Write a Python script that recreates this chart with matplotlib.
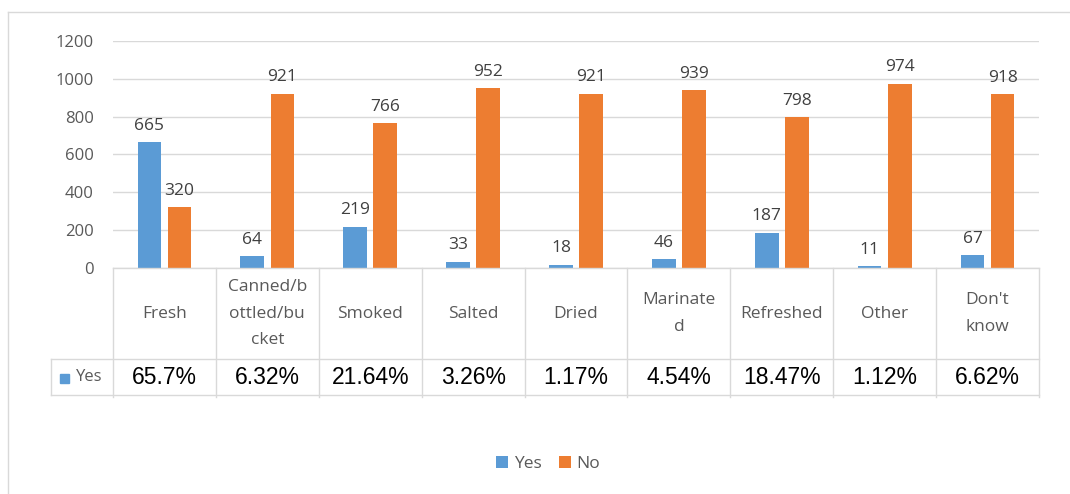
import matplotlib.pyplot as plt
import numpy as np

# fish product forms
categories = ["Fresh", "Canned/b\nottled/bu\ncket", "Smoked", "Salted", "Dried",
              "Marinate\nd", "Refreshed", "Other", "Don't\nknow"]
yes = [665, 64, 219, 33, 18, 46, 187, 11, 67]
no = [320, 921, 766, 952, 921, 939, 798, 974, 918]
yes_pct = ["65.7%", "6.32%", "21.64%", "3.26%", "1.17%", "4.54%", "18.47%", "1.12%", "6.62%"]

blue = "#5B9BD5"
orange = "#ED7D31"
grid = "#D9D9D9"
txt = "#595959"

W, H = 1070, 494
fig = plt.figure(figsize=(W / 100, H / 100), dpi=100)
plt.rcParams['font.family'] = ['Open Sans', 'DejaVu Sans']

x0, x1, ytop, ybot = 113, 1039, 41, 268
ax = fig.add_axes([x0 / W, 1 - ybot / H, (x1 - x0) / W, (ybot - ytop) / H])

x = np.arange(len(categories))
bw = 0.23
off = 0.146
b1 = ax.bar(x - off, yes, bw, color=blue, zorder=3)
b2 = ax.bar(x + off, no, bw, color=orange, zorder=3)

for bars, vals in ((b1, yes), (b2, no)):
    for b, v in zip(bars, vals):
        ax.annotate(str(v), (b.get_x() + b.get_width() / 2, v), xytext=(0, 6),
                    textcoords="offset points", ha="center", va="bottom",
                    fontsize=12.5, color="#404040")

ax.set_xlim(-0.5, len(categories) - 0.5)
ax.set_ylim(0, 1200)
ax.set_yticks(range(0, 1201, 200))
ax.tick_params(axis="y", length=0, labelsize=12, labelcolor=txt, pad=14)
ax.set_xticks([])
ax.grid(axis="y", color=grid, linewidth=1, zorder=0)
for s in ax.spines.values():
    s.set_visible(False)

# data table below the bars (axes fraction in y)
h_ax = ybot - ytop
r1 = -(359 - ybot) / h_ax
r2 = -(395 - ybot) / h_ax
left_key = -0.5 - (x0 - 51) / ((x1 - x0) / len(categories))
kw = dict(color=grid, linewidth=1, clip_on=False, zorder=4,
          transform=ax.get_xaxis_transform())
ax.plot([-0.5, len(categories) - 0.5], [0, 0], **kw)
ax.plot([left_key, len(categories) - 0.5], [r1, r1], **kw)
ax.plot([left_key, len(categories) - 0.5], [r2, r2], **kw)
ax.plot([left_key, left_key], [r1, r2], **kw)
for b in np.arange(-0.5, len(categories)):
    ax.plot([b, b], [0, r2 - 0.008], **kw)

for i, c in enumerate(categories):
    ax.text(i, r1 / 2, c, transform=ax.get_xaxis_transform(), ha="center", va="center",
            fontsize=12.5, color=txt, linespacing=1.85)
    ax.text(i, (r1 + r2) / 2, yes_pct[i], transform=ax.get_xaxis_transform(),
            ha="center", va="center", fontsize=16.5, color="black",
            family=["Liberation Sans", "DejaVu Sans"])

# legend key in the table
fig.patches.append(plt.Rectangle((60 / W, 1 - 383 / H), 9 / W, 9 / H,
                                 transform=fig.transFigure, color=blue))
fig.text(76 / W, 1 - 377 / H, "Yes", ha="left", va="center", fontsize=12, color=txt)

# chart border (top and left visible)
fig.add_artist(plt.Line2D([8 / W, 1], [1 - 12 / H, 1 - 12 / H], color=grid, linewidth=1))
fig.add_artist(plt.Line2D([8 / W, 8 / W], [0, 1 - 12 / H], color=grid, linewidth=1))

leg = fig.legend([b1, b2], ["Yes", "No"], loc="center", bbox_to_anchor=(548 / W, 1 - 464 / H),
                 ncol=2, frameon=False, fontsize=12.5, handlelength=0.7, handleheight=0.7,
                 handletextpad=0.3, columnspacing=1.0)
for t in leg.get_texts():
    t.set_color(txt)

fig.savefig("out.png", dpi=100)
